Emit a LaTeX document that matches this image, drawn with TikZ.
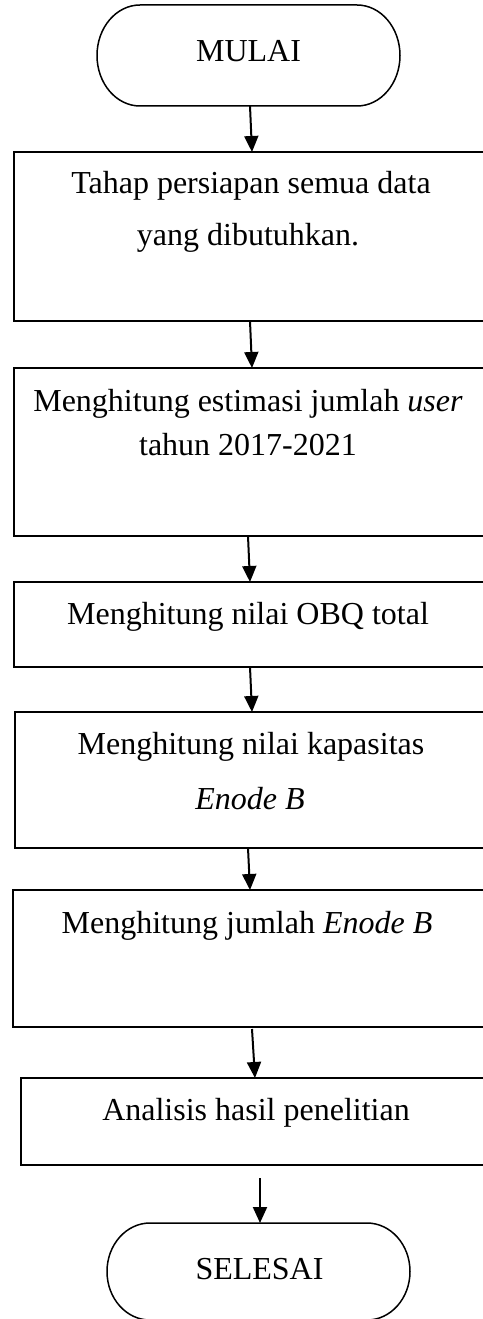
\documentclass[tikz,border=0pt]{standalone}
\usepackage{fontspec}
\setmainfont{Liberation Serif}
\usetikzlibrary{arrows.meta}

\begin{document}
\begin{tikzpicture}[x=1pt,y=-1pt,
  every node/.style={inner sep=0pt,outer sep=0pt},
  txt/.style={anchor=base,font=\fontsize{32}{38}\selectfont},
  stepbox/.style={draw,line width=1.8pt,anchor=north west,minimum width=481pt},
  hold/.style={minimum width=303pt},
  term/.style={line width=1.5pt},
  arr/.style={line width=2pt,-{Triangle[width=14pt,length=16pt]}}
]
\useasboundingbox (0,0) rectangle (482,1319);

% terminal shapes: placeholders for anchors, outline drawn separately
\node[hold,minimum height=101pt,anchor=north west] (mulai) at (97,5) {};
\node[hold,minimum height=97pt,anchor=north west] (selesai) at (107,1223) {};

\draw[term] ([xshift=43pt]mulai.north west) -- ([xshift=-43pt]mulai.north east)
  arc[start angle=90,end angle=-90,x radius=43pt,y radius=50.5pt]
  -- ([xshift=43pt]mulai.south west)
  arc[start angle=270,end angle=90,x radius=43pt,y radius=50.5pt] -- cycle;
\draw[term] ([xshift=43pt]selesai.north west) -- ([xshift=-43pt]selesai.north east)
  arc[start angle=90,end angle=-90,x radius=43pt,y radius=48.5pt]
  -- ([xshift=43pt]selesai.south west)
  arc[start angle=270,end angle=90,x radius=43pt,y radius=48.5pt] -- cycle;

% process boxes
\node[stepbox,minimum height=169pt] (b1) at (14,152) {};
\node[stepbox,minimum height=168pt] (b2) at (14,368) {};
\node[stepbox,minimum height=85pt]  (b3) at (14,582) {};
\node[stepbox,minimum height=136pt,minimum width=480pt] (b4) at (15,712) {};
\node[stepbox,minimum height=137pt,minimum width=482pt] (b5) at (13,890) {};
\node[stepbox,minimum height=87pt,minimum width=474pt]  (b6) at (21,1078) {};

% labels
\node[txt] (tmulai) at (248.5,62) {MULAI};
\node[txt] (t1a) at (251,193) {Tahap persiapan semua data};
\node[txt] (t1b) at (248,245) {yang dibutuhkan.};
\node[txt] (t2a) at (248,411) {Menghitung estimasi jumlah \textit{user}};
\node[txt] (t2b) at (248,455) {tahun 2017-2021};
\node[txt] (t3)  at (248,624) {Menghitung nilai OBQ total};
\node[txt] (t4a) at (251,754) {Menghitung nilai kapasitas};
\node[txt] (t4b) at (250,809) {\textit{Enode B}};
\node[txt] (t5)  at (247,933) {Menghitung jumlah \textit{Enode B}};
\node[txt] (t6)  at (256,1120) {Analisis hasil penelitian};
\node[txt] (tsel) at (259.5,1279) {SELESAI};

% flow
\draw[arr] ([xshift=1.5pt]mulai.south) -- ([xshift=-2.5pt]b1.north);
\draw[arr] ([xshift=-4.5pt]b1.south) -- ([xshift=-2.5pt]b2.north);
\draw[arr] ([xshift=-6.5pt]b2.south) -- ([xshift=-4.5pt]b3.north);
\draw[arr] ([xshift=-4.5pt]b3.south) -- ([xshift=-3pt]b4.north);
\draw[arr] ([xshift=-7pt]b4.south) -- ([xshift=-4pt]b5.north);
\draw[arr] ([xshift=-2pt,yshift=-2pt]b5.south) -- ([xshift=-3pt]b6.north);
\draw[arr] ([xshift=2pt,yshift=-13pt]b6.south) -- ([xshift=1.5pt]selesai.north);
\end{tikzpicture}
\end{document}
